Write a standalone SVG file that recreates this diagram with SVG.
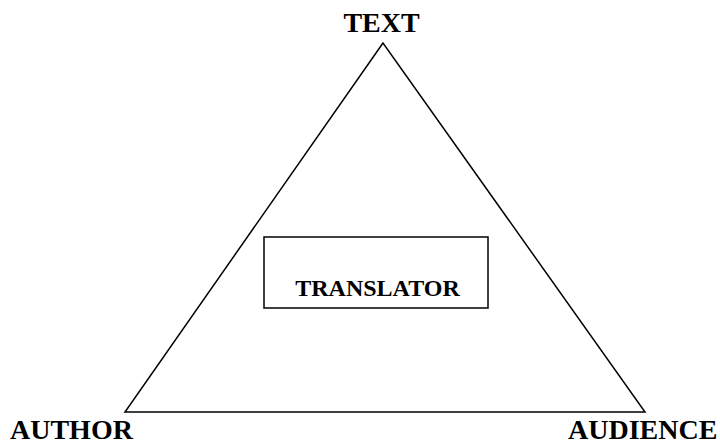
<svg xmlns="http://www.w3.org/2000/svg" width="720" height="443" viewBox="0 0 720 443">
  <style>
    .edge { fill: none; stroke: #000; stroke-width: 1.5; }
    .box { fill: #fff; stroke: #000; stroke-width: 1.5; }
    .lbl { font-family: "Liberation Serif", "Times New Roman", serif; font-weight: bold; fill: #000; }
  </style>
  <rect width="720" height="443" fill="#fff"/>
  <g id="connectors">
    <polygon class="edge" points="383,43 125,412 645,412"/>
  </g>
  <g id="text-node">
    <text class="lbl" x="381.5" y="32" font-size="28" text-anchor="middle">TEXT</text>
  </g>
  <g id="author-node">
    <text class="lbl" x="10" y="439" font-size="28">AUTHOR</text>
  </g>
  <g id="audience-node">
    <text class="lbl" x="568" y="439" font-size="28">AUDIENCE</text>
  </g>
  <g id="translator-node">
    <rect class="box" x="264" y="237" width="224" height="71"/>
    <text class="lbl" x="377.5" y="296" font-size="24" text-anchor="middle">TRANSLATOR</text>
  </g>
</svg>
